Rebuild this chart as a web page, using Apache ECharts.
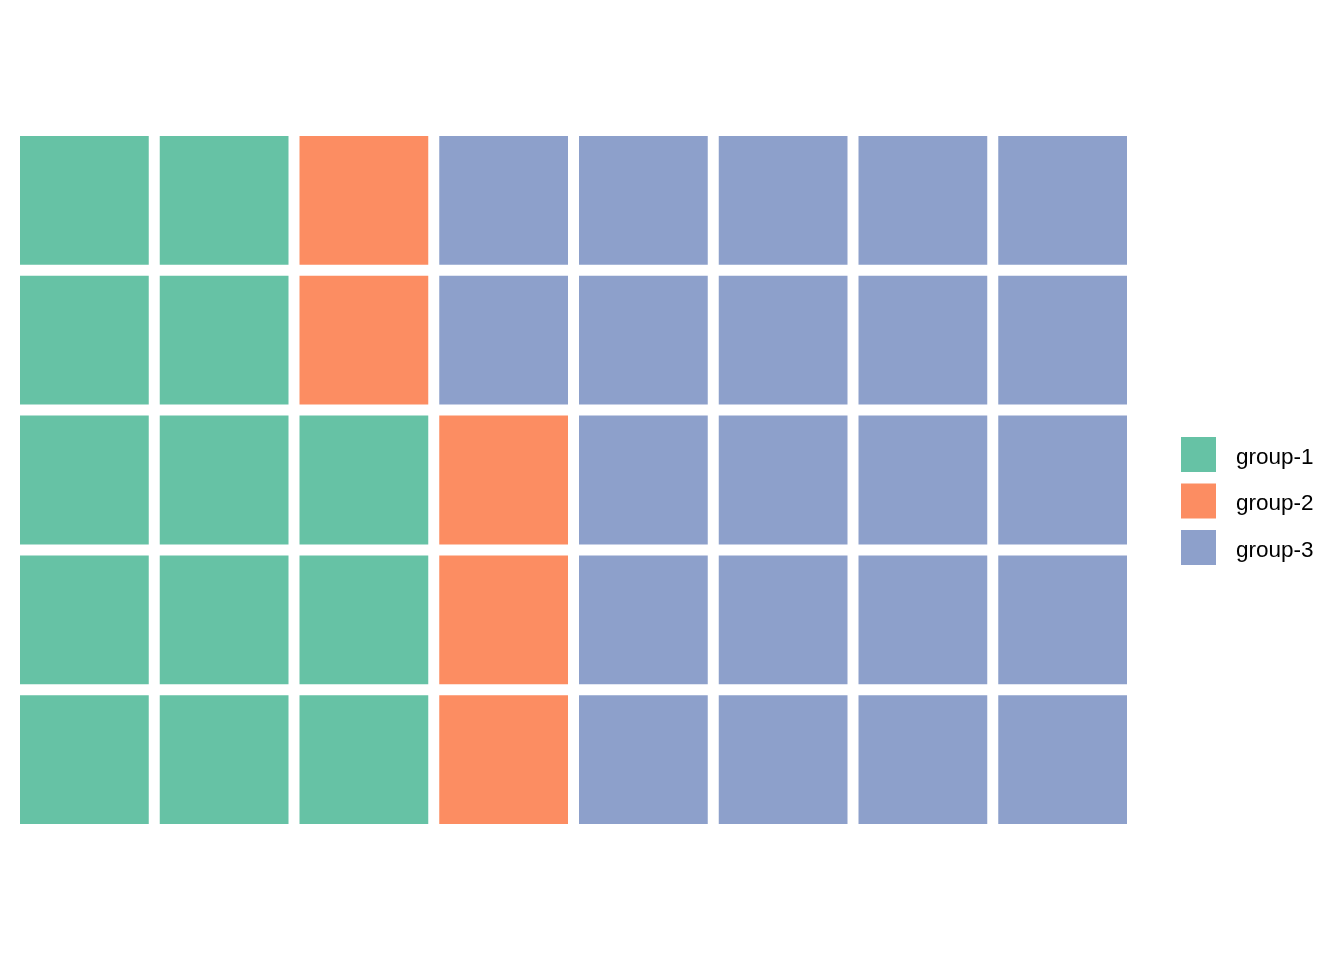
<!DOCTYPE html>
<html>
<head>
<meta charset="utf-8">
<script src="https://cdn.jsdelivr.net/npm/echarts@6/dist/echarts.min.js"></script>
<style>
  html, body { margin: 0; padding: 0; background: #fff; }
  #chart { width: 1344px; height: 960px; }
</style>
</head>
<body>
<div id="chart"></div>
<script>
// waffle data
const groups = ['group-1', 'group-2', 'group-3']
const counts = [13, 5, 22]
const colors = ['#66C2A5', '#FC8D62', '#8DA0CB']
const nCols = 8
const nRows = 5
const colLabels = ['1', '2', '3', '4', '5', '6', '7', '8']
const rowLabels = ['1', '2', '3', '4', '5']

// fill cells column by column, bottom to top
const cellsByGroup = groups.map(() => [])
let idx = 0
counts.forEach((n, g) => {
  for (let k = 0; k < n; k++) {
    const col = Math.floor(idx / nRows)
    const row = idx % nRows
    cellsByGroup[g].push([col, row])
    idx++
  }
})

const gap = 11

const renderCell = (params, api) => {
  const c = api.coord([api.value(0), api.value(1)])
  const s = api.size([1, 1])
  const w = s[0] - gap
  const h = s[1] - gap
  return {
    type: 'rect',
    shape: { x: c[0] - w / 2, y: c[1] - h / 2, width: w, height: h },
    style: { fill: api.visual('color') }
  }
}

const chart = echarts.init(document.getElementById('chart'))
chart.setOption({
  animation: false,
  backgroundColor: '#fff',
  color: colors,
  grid: { left: 14.5, top: 130.5, width: 1118, height: 699 },
  xAxis: { type: 'category', data: colLabels, show: false },
  yAxis: { type: 'category', data: rowLabels, show: false },
  legend: {
    orient: 'vertical',
    left: 1181,
    top: 437,
    padding: 0,
    icon: 'rect',
    itemWidth: 35,
    itemHeight: 35,
    itemGap: 11.5,
    data: groups,
    formatter: name => '{t|' + name + '}',
    textStyle: {
      rich: {
        t: {
          fontFamily: 'Liberation Sans, Arial, sans-serif',
          fontSize: 22.5,
          color: '#000',
          padding: [6, 0, 0, 15]
        }
      }
    }
  },
  series: groups.map((name, g) => ({
    name: name,
    type: 'custom',
    renderItem: renderCell,
    encode: { x: 0, y: 1 },
    data: cellsByGroup[g]
  }))
})
</script>
</body>
</html>
